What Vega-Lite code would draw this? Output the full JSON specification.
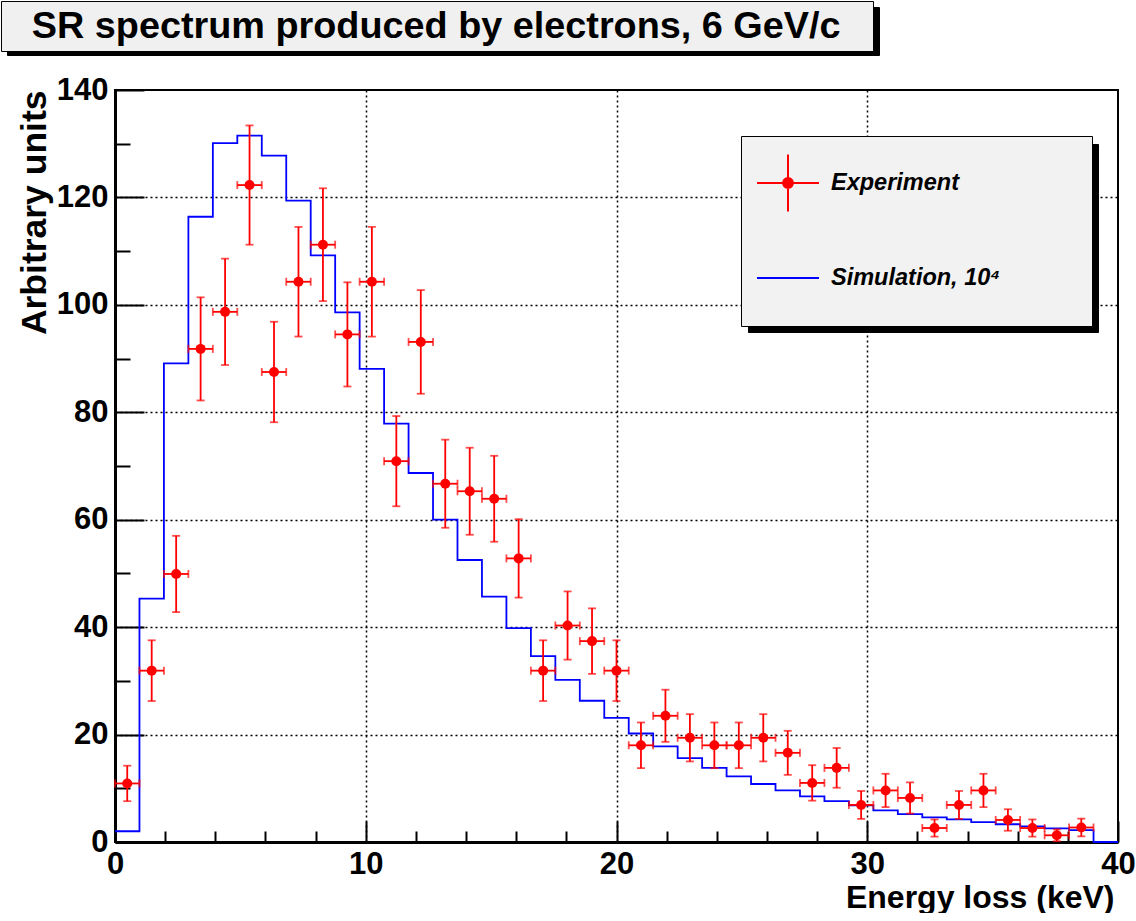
{
  "$schema": "https://vega.github.io/schema/vega-lite/v6.json",
  "padding": 0,
  "background": "white",
  "config": {"font": "Liberation Sans"},
  "datasets": {
    "sim": [
      {"edge": 0, "value": 2.0, "series": "Simulation, 10⁴"},
      {"edge": 0.97561, "value": 45.3, "series": "Simulation, 10⁴"},
      {"edge": 1.95122, "value": 89.1, "series": "Simulation, 10⁴"},
      {"edge": 2.92683, "value": 116.4, "series": "Simulation, 10⁴"},
      {"edge": 3.90244, "value": 130.1, "series": "Simulation, 10⁴"},
      {"edge": 4.87805, "value": 131.5, "series": "Simulation, 10⁴"},
      {"edge": 5.85366, "value": 127.8, "series": "Simulation, 10⁴"},
      {"edge": 6.82927, "value": 119.4, "series": "Simulation, 10⁴"},
      {"edge": 7.80488, "value": 109.2, "series": "Simulation, 10⁴"},
      {"edge": 8.78049, "value": 98.6, "series": "Simulation, 10⁴"},
      {"edge": 9.7561, "value": 88.1, "series": "Simulation, 10⁴"},
      {"edge": 10.73171, "value": 77.9, "series": "Simulation, 10⁴"},
      {"edge": 11.70732, "value": 68.7, "series": "Simulation, 10⁴"},
      {"edge": 12.68293, "value": 60.0, "series": "Simulation, 10⁴"},
      {"edge": 13.65854, "value": 52.5, "series": "Simulation, 10⁴"},
      {"edge": 14.63415, "value": 45.7, "series": "Simulation, 10⁴"},
      {"edge": 15.60976, "value": 39.8, "series": "Simulation, 10⁴"},
      {"edge": 16.58537, "value": 34.6, "series": "Simulation, 10⁴"},
      {"edge": 17.56098, "value": 30.2, "series": "Simulation, 10⁴"},
      {"edge": 18.53659, "value": 26.3, "series": "Simulation, 10⁴"},
      {"edge": 19.5122, "value": 23.1, "series": "Simulation, 10⁴"},
      {"edge": 20.4878, "value": 20.2, "series": "Simulation, 10⁴"},
      {"edge": 21.46341, "value": 17.8, "series": "Simulation, 10⁴"},
      {"edge": 22.43902, "value": 15.6, "series": "Simulation, 10⁴"},
      {"edge": 23.41463, "value": 13.8, "series": "Simulation, 10⁴"},
      {"edge": 24.39024, "value": 12.2, "series": "Simulation, 10⁴"},
      {"edge": 25.36585, "value": 10.8, "series": "Simulation, 10⁴"},
      {"edge": 26.34146, "value": 9.6, "series": "Simulation, 10⁴"},
      {"edge": 27.31707, "value": 8.5, "series": "Simulation, 10⁴"},
      {"edge": 28.29268, "value": 7.6, "series": "Simulation, 10⁴"},
      {"edge": 29.26829, "value": 6.8, "series": "Simulation, 10⁴"},
      {"edge": 30.2439, "value": 5.9, "series": "Simulation, 10⁴"},
      {"edge": 31.21951, "value": 5.2, "series": "Simulation, 10⁴"},
      {"edge": 32.19512, "value": 4.6, "series": "Simulation, 10⁴"},
      {"edge": 33.17073, "value": 4.2, "series": "Simulation, 10⁴"},
      {"edge": 34.14634, "value": 3.7, "series": "Simulation, 10⁴"},
      {"edge": 35.12195, "value": 3.3, "series": "Simulation, 10⁴"},
      {"edge": 36.09756, "value": 2.9, "series": "Simulation, 10⁴"},
      {"edge": 37.07317, "value": 2.55, "series": "Simulation, 10⁴"},
      {"edge": 38.04878, "value": 2.2, "series": "Simulation, 10⁴"},
      {"edge": 39.02439, "value": 0, "series": "Simulation, 10⁴"},
      {"edge": 40, "value": 0, "series": "Simulation, 10⁴"}
    ],
    "exp": [
      {"x": 0.4878, "xlo": 0, "xhi": 0.97561, "y": 10.9, "err": 3.3, "series": "Experiment"},
      {"x": 1.46341, "xlo": 0.97561, "xhi": 1.95122, "y": 31.9, "err": 5.65, "series": "Experiment"},
      {"x": 2.43902, "xlo": 1.95122, "xhi": 2.92683, "y": 49.9, "err": 7.1, "series": "Experiment"},
      {"x": 3.41463, "xlo": 2.92683, "xhi": 3.90244, "y": 91.8, "err": 9.6, "series": "Experiment"},
      {"x": 4.39024, "xlo": 3.90244, "xhi": 4.87805, "y": 98.7, "err": 9.9, "series": "Experiment"},
      {"x": 5.36585, "xlo": 4.87805, "xhi": 5.85366, "y": 122.3, "err": 11.1, "series": "Experiment"},
      {"x": 6.34146, "xlo": 5.85366, "xhi": 6.82927, "y": 87.5, "err": 9.35, "series": "Experiment"},
      {"x": 7.31707, "xlo": 6.82927, "xhi": 7.80488, "y": 104.3, "err": 10.2, "series": "Experiment"},
      {"x": 8.29268, "xlo": 7.80488, "xhi": 8.78049, "y": 111.2, "err": 10.5, "series": "Experiment"},
      {"x": 9.26829, "xlo": 8.78049, "xhi": 9.7561, "y": 94.5, "err": 9.7, "series": "Experiment"},
      {"x": 10.2439, "xlo": 9.7561, "xhi": 10.73171, "y": 104.3, "err": 10.2, "series": "Experiment"},
      {"x": 11.21951, "xlo": 10.73171, "xhi": 11.70732, "y": 70.9, "err": 8.4, "series": "Experiment"},
      {"x": 12.19512, "xlo": 11.70732, "xhi": 12.68293, "y": 93.1, "err": 9.65, "series": "Experiment"},
      {"x": 13.17073, "xlo": 12.68293, "xhi": 13.65854, "y": 66.7, "err": 8.2, "series": "Experiment"},
      {"x": 14.14634, "xlo": 13.65854, "xhi": 14.63415, "y": 65.3, "err": 8.1, "series": "Experiment"},
      {"x": 15.12195, "xlo": 14.63415, "xhi": 15.60976, "y": 63.9, "err": 8.0, "series": "Experiment"},
      {"x": 16.09756, "xlo": 15.60976, "xhi": 16.58537, "y": 52.8, "err": 7.3, "series": "Experiment"},
      {"x": 17.07317, "xlo": 16.58537, "xhi": 17.56098, "y": 31.9, "err": 5.65, "series": "Experiment"},
      {"x": 18.04878, "xlo": 17.56098, "xhi": 18.53659, "y": 40.3, "err": 6.35, "series": "Experiment"},
      {"x": 19.02439, "xlo": 18.53659, "xhi": 19.5122, "y": 37.4, "err": 6.1, "series": "Experiment"},
      {"x": 20.0, "xlo": 19.5122, "xhi": 20.4878, "y": 31.9, "err": 5.65, "series": "Experiment"},
      {"x": 20.97561, "xlo": 20.4878, "xhi": 21.46341, "y": 18.0, "err": 4.25, "series": "Experiment"},
      {"x": 21.95122, "xlo": 21.46341, "xhi": 22.43902, "y": 23.5, "err": 4.85, "series": "Experiment"},
      {"x": 22.92683, "xlo": 22.43902, "xhi": 23.41463, "y": 19.4, "err": 4.4, "series": "Experiment"},
      {"x": 23.90244, "xlo": 23.41463, "xhi": 24.39024, "y": 18.0, "err": 4.25, "series": "Experiment"},
      {"x": 24.87805, "xlo": 24.39024, "xhi": 25.36585, "y": 18.0, "err": 4.25, "series": "Experiment"},
      {"x": 25.85366, "xlo": 25.36585, "xhi": 26.34146, "y": 19.4, "err": 4.4, "series": "Experiment"},
      {"x": 26.82927, "xlo": 26.34146, "xhi": 27.31707, "y": 16.6, "err": 4.1, "series": "Experiment"},
      {"x": 27.80488, "xlo": 27.31707, "xhi": 28.29268, "y": 11.0, "err": 3.3, "series": "Experiment"},
      {"x": 28.78049, "xlo": 28.29268, "xhi": 29.26829, "y": 13.8, "err": 3.7, "series": "Experiment"},
      {"x": 29.7561, "xlo": 29.26829, "xhi": 30.2439, "y": 6.9, "err": 2.6, "series": "Experiment"},
      {"x": 30.73171, "xlo": 30.2439, "xhi": 31.21951, "y": 9.6, "err": 3.1, "series": "Experiment"},
      {"x": 31.70732, "xlo": 31.21951, "xhi": 32.19512, "y": 8.2, "err": 2.9, "series": "Experiment"},
      {"x": 32.68293, "xlo": 32.19512, "xhi": 33.17073, "y": 2.6, "err": 1.6, "series": "Experiment"},
      {"x": 33.65854, "xlo": 33.17073, "xhi": 34.14634, "y": 6.9, "err": 2.6, "series": "Experiment"},
      {"x": 34.63415, "xlo": 34.14634, "xhi": 35.12195, "y": 9.6, "err": 3.1, "series": "Experiment"},
      {"x": 35.60976, "xlo": 35.12195, "xhi": 36.09756, "y": 4.1, "err": 2.0, "series": "Experiment"},
      {"x": 36.58537, "xlo": 36.09756, "xhi": 37.07317, "y": 2.6, "err": 1.6, "series": "Experiment"},
      {"x": 37.56098, "xlo": 37.07317, "xhi": 38.04878, "y": 1.25, "err": 1.1, "series": "Experiment"},
      {"x": 38.53659, "xlo": 38.04878, "xhi": 39.02439, "y": 2.7, "err": 1.65, "series": "Experiment"}
    ]
  },
  "width": 1003,
  "height": 752,
  "view": {"stroke": "black", "strokeWidth": 2},
  "layer": [
    {
      "data": {"name": "sim"},
      "mark": {"type": "line", "interpolate": "step-after", "strokeWidth": 1.8},
      "encoding": {
        "x": {
          "field": "edge", "type": "quantitative",
          "scale": {"domain": [0, 40], "nice": false, "zero": false},
          "title": "Energy loss (keV)",
          "axis": {
            "values": [0,1,2,3,4,5,6,7,8,9,10,11,12,13,14,15,16,17,18,19,20,21,22,23,24,25,26,27,28,29,30,31,32,33,34,35,36,37,38,39,40],
            "labelExpr": "datum.value % 5 === 0 ? datum.label : ''",
            "labelFont": "Liberation Sans", "labelFontSize": 31, "labelFontWeight": "bold", "labelColor": "black",
            "labelPadding": 28, "labelOverlap": false, "labelFlush": false, "labelBound": false,
            "tickSize": {"condition": {"test": "datum.value % 5 === 0", "value": -21}, "value": -11},
            "tickWidth": 2, "tickColor": "black",
            "domainWidth": 3, "domainColor": "black",
            "grid": true, "gridColor": "black", "gridDash": [2, 3], "gridWidth": 1.5,
            "gridOpacity": {"condition": {"test": "datum.value % 5 === 0 && datum.value > 0 && datum.value < 40", "value": 1}, "value": 0},
            "titleFont": "Liberation Sans", "titleFontSize": 32, "titleFontWeight": "bold", "titleColor": "black",
            "titleAlign": "right", "titleBaseline": "top", "titleX": 999, "titleY": 40
          }
        },
        "y": {
          "field": "value", "type": "quantitative",
          "scale": {"domain": [0, 140], "nice": false, "zero": false},
          "title": "Arbitrary units",
          "axis": {
            "values": [0,5,10,15,20,25,30,35,40,45,50,55,60,65,70,75,80,85,90,95,100,105,110,115,120,125,130,135,140],
            "labelExpr": "datum.value % 20 === 0 ? datum.label : ''",
            "labelFont": "Liberation Sans", "labelFontSize": 31, "labelFontWeight": "bold", "labelColor": "black",
            "labelPadding": 36, "labelOverlap": false, "labelFlush": false, "labelBound": false,
            "tickSize": {"condition": {"test": "datum.value % 20 === 0", "value": -29}, "value": -15},
            "tickWidth": 2, "tickColor": "black",
            "domainWidth": 3, "domainColor": "black",
            "grid": true, "gridColor": "black", "gridDash": [2, 3], "gridWidth": 1.5,
            "gridOpacity": {"condition": {"test": "datum.value % 20 === 0 && datum.value > 0 && datum.value < 140", "value": 1}, "value": 0},
            "titleFont": "Liberation Sans", "titleFontSize": 35.5, "titleFontWeight": "bold", "titleColor": "black",
            "titleAngle": -90, "titleAlign": "right", "titleBaseline": "alphabetic", "titleX": -70, "titleY": 0
          }
        },
        "color": {
          "field": "series", "type": "nominal",
          "scale": {"domain": ["Experiment", "Simulation, 10⁴"], "range": ["#ff0000", "#0000ff"]},
          "legend": {
            "orient": "none", "legendX": 626, "legendY": 46, "zindex": 2,
            "title": null,
            "fillColor": "#f2f2f2", "strokeColor": "black",
            "padding": 15, "rowPadding": 29, "gridAlign": "all",
            "symbolSize": 3844, "symbolStrokeWidth": 2, "symbolType": "stroke",
            "labelFont": "Liberation Sans", "labelFontSize": 23.5, "labelFontWeight": "bold", "labelFontStyle": "italic", "labelColor": "black",
            "labelOffset": 11, "labelLimit": 600,
            "labelExpr": "datum.label + '\u00a0\u00a0\u00a0\u00a0\u00a0\u00a0\u00a0\u00a0\u00a0\u00a0\u00a0\u2006\u200b'",
            "encode": {
              "symbols": {
                "update": {
                  "shape": {"signal": "datum.value === 'Experiment' ? 'M-1,0H1M0,-0.92V0.92M-0.16,0A0.16,0.16,0,1,0,0.16,0A0.16,0.16,0,1,0,-0.16,0Z' : 'M-1,0H1M0,-0.92M0,0.92'"},
                  "fill": {"signal": "datum.value === 'Experiment' ? '#ff0000' : 'transparent'"},
                  "stroke": {"signal": "datum.value === 'Experiment' ? '#ff0000' : '#0000ff'"},
                  "strokeWidth": {"value": 2},
                  "opacity": {"value": 1}
                }
              }
            }
          }
        },
        "strokeDash": {
          "datum": "SR spectrum produced by electrons, 6 GeV/c",
          "scale": {"range": [[1, 0]]},
          "legend": {
            "orient": "none", "legendX": -114, "legendY": -89, "zindex": 2,
            "title": null,
            "fillColor": "#f0f0f0", "strokeColor": "black",
            "padding": 5,
            "symbolSize": 0, "symbolOpacity": 0, "symbolStrokeWidth": 0,
            "labelOffset": -12,
            "labelFont": "Liberation Sans", "labelFontSize": 37.8, "labelFontWeight": "bold", "labelColor": "black",
            "labelLimit": 2000,
            "labelExpr": "datum.label + '\u00a0\u00a0\u2006\u200b'",
            "encode": {"labels": {"update": {"dy": {"value": 2}}}}
          }
        }
      }
    },
    {
      "data": {"name": "exp"},
      "mark": {"type": "errorbar", "ticks": true, "size": 8, "thickness": 1.8},
      "encoding": {
        "x": {"field": "x", "type": "quantitative", "title": "Energy loss (keV)"},
        "y": {"field": "y", "type": "quantitative", "title": "Arbitrary units"},
        "yError": {"field": "err"},
        "color": {"field": "series", "type": "nominal"}
      }
    },
    {
      "data": {"name": "exp"},
      "mark": {"type": "errorbar", "ticks": true, "size": 8, "thickness": 1.8, "orient": "horizontal"},
      "encoding": {
        "x": {"field": "xlo", "type": "quantitative", "title": "Energy loss (keV)"},
        "x2": {"field": "xhi"},
        "y": {"field": "y", "type": "quantitative", "title": "Arbitrary units"},
        "color": {"field": "series", "type": "nominal"}
      }
    },
    {
      "data": {"name": "exp"},
      "mark": {"type": "point", "filled": true, "size": 100, "opacity": 1},
      "encoding": {
        "x": {"field": "x", "type": "quantitative", "title": "Energy loss (keV)"},
        "y": {"field": "y", "type": "quantitative", "title": "Arbitrary units"},
        "color": {"field": "series", "type": "nominal"},
        "shape": {
          "datum": "title shadow",
          "scale": {"range": ["circle"]},
          "legend": {
            "orient": "none", "legendX": -108, "legendY": -83, "zindex": 1,
            "title": null,
            "fillColor": "black", "strokeColor": "black",
            "padding": 5,
            "symbolSize": 1444, "symbolOpacity": 0, "symbolStrokeWidth": 0,
            "labelOffset": 824,
            "labelFontSize": 10, "labelColor": "black",
            "labelExpr": "''"
          }
        },
        "opacity": {
          "datum": "legend shadow",
          "type": "nominal",
          "scale": {"type": "point", "range": [1, 1]},
          "legend": {
            "orient": "none", "legendX": 633, "legendY": 54, "zindex": 1,
            "title": null,
            "fillColor": "black", "strokeColor": "black",
            "padding": 15,
            "symbolSize": 24964, "symbolOpacity": 0, "symbolStrokeWidth": 0,
            "labelOffset": 162,
            "labelFontSize": 10, "labelColor": "black",
            "labelExpr": "''"
          }
        }
      }
    }
  ]
}
